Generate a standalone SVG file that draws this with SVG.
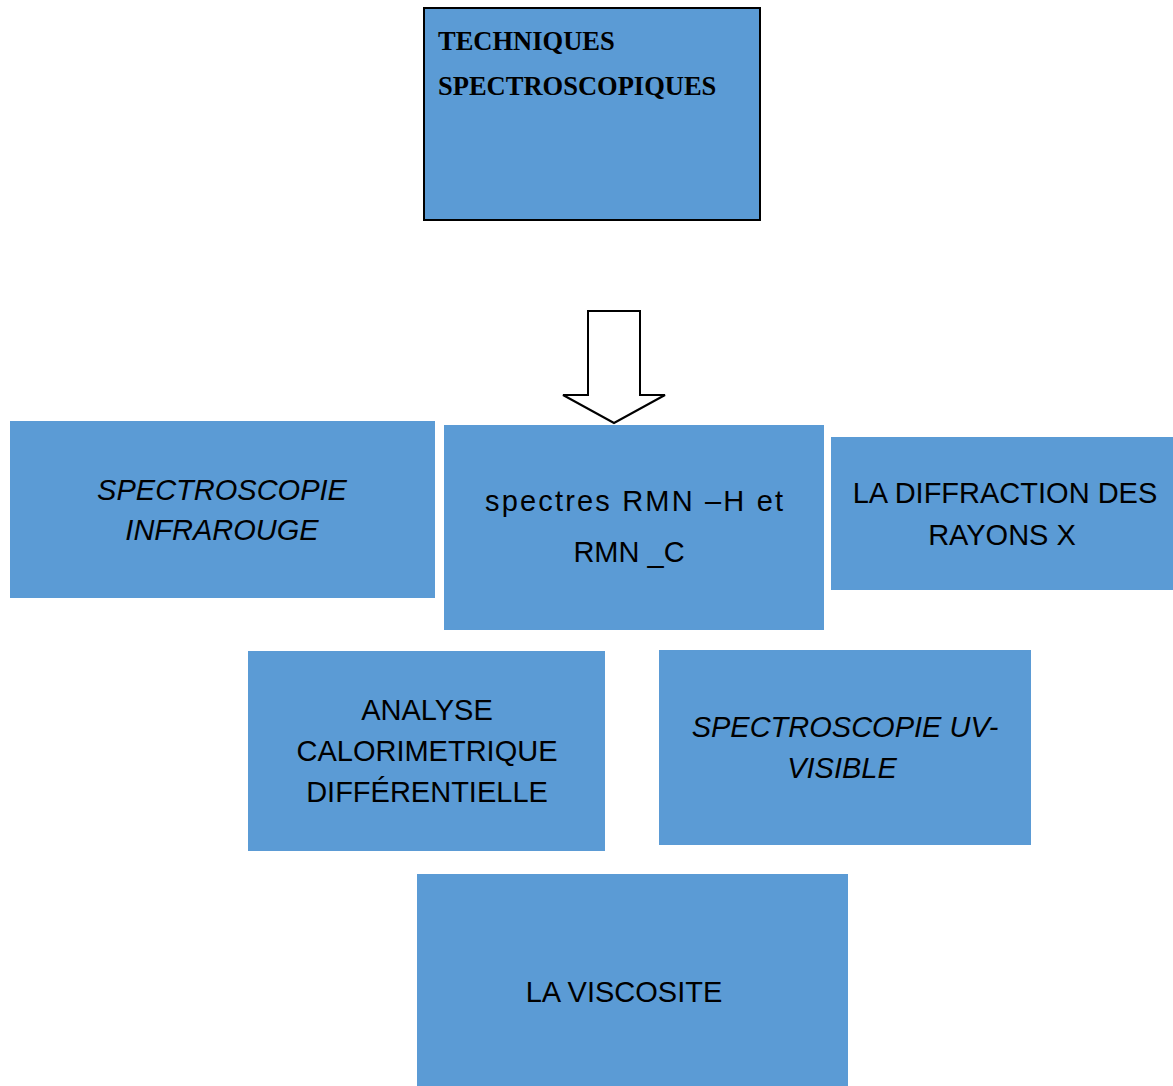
<svg xmlns="http://www.w3.org/2000/svg" width="1173" height="1086" viewBox="0 0 1173 1086">
<style>
.box{fill:#5B9BD5;}
.t{font-family:"Liberation Sans",Arial,sans-serif;font-size:29px;fill:#000;text-anchor:middle;}
.i{font-style:italic;}
.h{font-family:"Liberation Serif","Times New Roman",serif;font-size:26.5px;font-weight:bold;fill:#000;}
</style>
<rect width="1173" height="1086" fill="#fff"/>
<g id="techniques">
<rect x="424" y="8" width="336" height="212" fill="#5B9BD5" stroke="#000" stroke-width="2"/>
<text class="h" x="438" y="50">TECHNIQUES</text>
<text class="h" x="438" y="95">SPECTROSCOPIQUES</text>
</g>
<g id="connectors">
<path d="M588,311 H640 V395 H665 L614,423 L563,395 H588 Z" fill="#fff" stroke="#000" stroke-width="2" stroke-linejoin="miter"/>
</g>
<g id="ir">
<rect class="box" x="10" y="421" width="425" height="177"/>
<text class="t i" x="222" y="500" font-size="28.5">SPECTROSCOPIE</text>
<text class="t i" x="222" y="540" font-size="28.5">INFRAROUGE</text>
</g>
<g id="rmn">
<rect class="box" x="444" y="425" width="380" height="205"/>
<text class="t" x="634" y="511" font-size="34" textLength="298" lengthAdjust="spacing">spectres RMN –H et</text>
<text class="t" x="629" y="562" font-size="33">RMN _C</text>
</g>
<g id="drx">
<rect class="box" x="831" y="437" width="342" height="153"/>
<text class="t" x="1005" y="503" font-size="30.5">LA DIFFRACTION DES</text>
<text class="t" x="1002" y="545" font-size="30.5">RAYONS X</text>
</g>
<g id="acd">
<rect class="box" x="248" y="651" width="357" height="200"/>
<text class="t" x="427" y="720">ANALYSE</text>
<text class="t" x="427" y="761" font-size="30.5">CALORIMETRIQUE</text>
<text class="t" x="427" y="802">DIFFÉRENTIELLE</text>
</g>
<g id="uv">
<rect class="box" x="659" y="650" width="372" height="195"/>
<text class="t i" x="845" y="737">SPECTROSCOPIE UV-</text>
<text class="t i" x="842" y="778">VISIBLE</text>
</g>
<g id="viscosite">
<rect class="box" x="417" y="874" width="431" height="212"/>
<text class="t" x="624" y="1002">LA VISCOSITE</text>
</g>
</svg>
